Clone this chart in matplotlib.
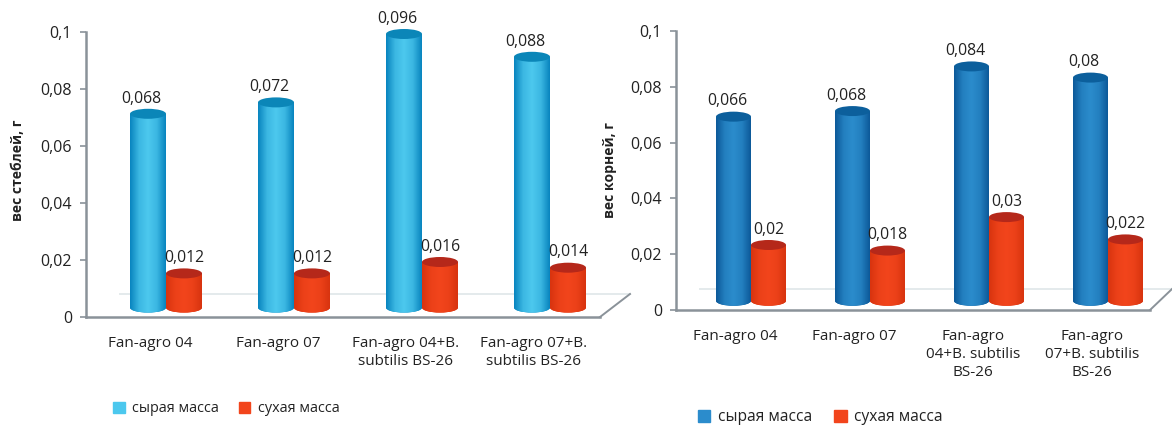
import numpy as np
from matplotlib import pyplot as plt
from matplotlib.patches import Ellipse, Patch
from matplotlib.lines import Line2D

plt.rcParams['font.family'] = ['Open Sans', 'DejaVu Sans']
plt.rcParams['font.size'] = 10

W, H = 1172, 426

yticks = [0, 0.02, 0.04, 0.06, 0.08, 0.1]
ytick_labels = ['0', '0,02', '0,04', '0,06', '0,08', '0,1']

cats_left = ['Fan-agro 04', 'Fan-agro 07', 'Fan-agro 04+B.\nsubtilis BS-26', 'Fan-agro 07+B.\nsubtilis BS-26']
cats_right = ['Fan-agro 04', 'Fan-agro 07', 'Fan-agro\n04+B. subtilis\nBS-26', 'Fan-agro\n07+B. subtilis\nBS-26']

wet_stems = [0.068, 0.072, 0.096, 0.088]
dry_stems = [0.012, 0.012, 0.016, 0.014]
wet_roots = [0.066, 0.068, 0.084, 0.08]
dry_roots = [0.02, 0.018, 0.03, 0.022]

wet_lab_stems = ['0,068', '0,072', '0,096', '0,088']
dry_lab_stems = ['0,012', '0,012', '0,016', '0,014']
wet_lab_roots = ['0,066', '0,068', '0,084', '0,08']
dry_lab_roots = ['0,02', '0,018', '0,03', '0,022']

series_names = ['сырая масса', 'сухая масса']

# colours: edge, centre, top of the cylinder
cyan = ('#0a86c0', '#4cc8ee', '#0b86b8')
blue = ('#0d5a9a', '#2b8ccc', '#0c5f9c')
red = ('#d8340f', '#f2451c', '#b5281a')

floor = 0.0033  # cylinders stand on the floor, a bit above the axis line


def cylinder(ax, x, val, w, eh, cols):
    grad = np.array([0, .25, .5, .75, 1.0])
    rgb_a = np.array(plt.matplotlib.colors.to_rgb(cols[0]))
    rgb_b = np.array(plt.matplotlib.colors.to_rgb(cols[1]))
    t = np.interp(np.linspace(0, 1, 40), grad, [0, .75, 1, .75, 0])
    img = (rgb_a[None, :] * (1 - t[:, None]) + rgb_b[None, :] * t[:, None])[None, :, :]
    ext = (x - w / 2, x + w / 2, floor - eh, floor + val)
    body = ax.bar(x, val, w, bottom=floor, color=cols[1], lw=0, zorder=3)[0]
    low = Ellipse((x, floor), w, eh * 2, color=cols[0], lw=0, zorder=3)
    ax.add_patch(low)
    for clip in (body, low):
        im = ax.imshow(img, extent=ext, aspect='auto', zorder=3.1)
        im.set_clip_path(clip)
    # the tallest cylinder pokes above the axes
    ax.add_patch(Ellipse((x, floor + val), w, eh * 2, color=cols[2], lw=0, zorder=4, clip_on=False))


def panel(rect, lim, cats, wet, dry, wet_lab, dry_lab, w, shift, wet_col, ylabel, ylab_x, diag, floor_px):
    x0, x1, ytop, ybot = rect
    ax = fig.add_axes([x0 / W, 1 - ybot / H, (x1 - x0) / W, (ybot - ytop) / H])
    eh = 5.0 / (ybot - ytop) * 0.1
    idx = np.arange(len(cats))
    for i in idx:
        cylinder(ax, i - w / 2, wet[i], w, eh, wet_col)
        cylinder(ax, i + w / 2, dry[i], w, eh, red)
        ax.annotate(wet_lab[i], (i - w / 2, floor + wet[i]), xytext=(-4.5, 11), textcoords='offset points',
                    ha='center', va='center', color='#222222', fontsize=11.3, zorder=6, annotation_clip=False)
        ax.annotate(dry_lab[i], (i + w / 2, floor + dry[i]), xytext=(0, 11), textcoords='offset points',
                    ha='center', va='center', color='#222222', fontsize=11.3, zorder=6, annotation_clip=False)
    ax.set_xlim(*lim)
    ax.set_ylim(0, 0.1)
    ax.patch.set_visible(False)
    for s in ['top', 'right']:
        ax.spines[s].set_visible(False)
    for s in ['left', 'bottom']:
        ax.spines[s].set_color('#8a9299')
        ax.spines[s].set_linewidth(1.8)
    ax.set_yticks(yticks)
    ax.set_yticklabels(ytick_labels, fontsize=11.5, color='#222222')
    ax.tick_params(axis='y', length=4, width=1.2, color='#8a9299', pad=6)
    ax.set_xticks(idx + shift)
    ax.set_xticklabels(cats, fontsize=11, color='#222222', linespacing=1.3)
    ax.tick_params(axis='x', length=0, pad=13.5)
    fig.text(ylab_x / W, 1 - 170 / H, ylabel, rotation=90, ha='center', va='center',
             fontsize=10, fontweight='bold', color='#222222')
    # perspective floor of the chart
    fig.add_artist(Line2D([x1 / W, diag[0] / W], [1 - ybot / H, 1 - diag[1] / H], color='#8a9299', lw=1.4))
    fig.add_artist(Line2D([floor_px[0] / W, diag[0] / W], [1 - diag[1] / H, 1 - diag[1] / H],
                          color='#e4eaec', lw=1.4, zorder=0))
    return ax


fig = plt.figure(figsize=(W / 100, H / 100), dpi=100)

panel((86, 600, 32, 317), ((86 - 166) / 128, (600 - 166) / 128), cats_left, wet_stems, dry_stems,
      wet_lab_stems, dry_lab_stems, 36 / 128, -16 / 128, cyan, 'вес стеблей, г', 18, (630, 294), (120,))
panel((676, 1150, 31, 310), ((676 - 751) / 119, (1150 - 751) / 119), cats_right, wet_roots, dry_roots,
      wet_lab_roots, dry_lab_roots, 35 / 119, -16 / 119, blue, 'вес корней, г', 610, (1172, 289), (700,))

for cols, anchor, fs in ((cyan, (113, 409), 10.4), (blue, (698, 417), 11.2)):
    handles = [Patch(color=cols[1], label=series_names[0]), Patch(color=red[1], label=series_names[1])]
    fig.legend(handles=handles, loc='center left', bbox_to_anchor=(anchor[0] / W, 1 - anchor[1] / H),
               ncol=2, frameon=False, fontsize=fs, handlelength=0.8, handleheight=0.8,
               handletextpad=0.5, columnspacing=1.4, labelcolor='#222222', borderpad=0, borderaxespad=0)

plt.savefig('out.png', dpi=100)
